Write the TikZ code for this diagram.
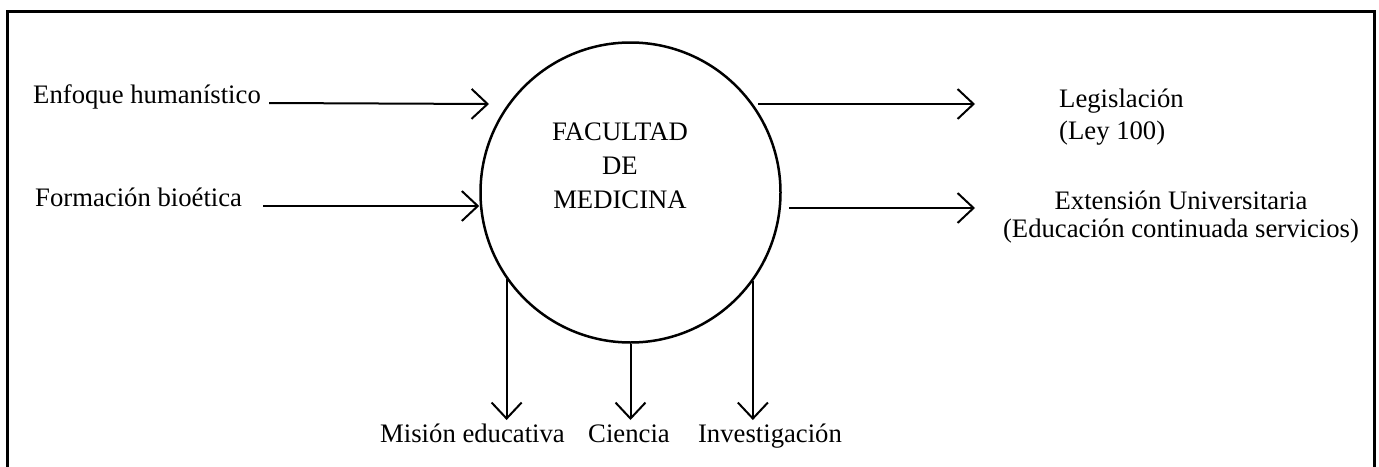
\documentclass[tikz,border=0pt]{standalone}
\usepackage{fontspec}
\setmainfont{Liberation Serif}
\usetikzlibrary{arrows.meta}

\begin{document}
\begin{tikzpicture}[x=1pt,y=-1pt,
  arr/.style={line width=2pt,-{Straight Barb[length=16pt,width=30pt,line width=2pt]}},
  txt/.style={inner sep=0pt,font=\fontsize{26.7}{32}\selectfont}]
\useasboundingbox (0,0) rectangle (1379,466);
% frame, open at the bottom
\draw[line width=3pt] (7,490) -- (7,11) -- (1374,11) -- (1374,490);
% faculty
\node[circle,draw,line width=2.5pt,minimum size=300pt,inner sep=0pt] (fac) at (630.5,192.5) {};
\node[txt,align=center,anchor=base] (factxt) at (620,208) {FACULTAD\\[2pt]DE\\[2pt]MEDICINA};
% inputs
\node[txt,anchor=base west] (enf) at (33,103) {Enfoque humanístico};
\node[txt,anchor=base west] (for) at (35,206) {Formación bioética};
\coordinate (enftip) at (489,104);
\draw[arr] ([xshift=8pt]enf.base east) -- (enftip);
\draw[arr] ([xshift=21pt]for.base east) -- (for.base east -| fac.west);
% outputs
\node[txt,anchor=base west,align=left] (leg) at (1059,139) {Legislación\\(Ley 100)};
\node[txt,anchor=base,align=center] (ext) at (1181,237) {Extensión Universitaria\\[-4pt](Educación continuada servicios)};
\coordinate (legfrom) at (758,104);
\coordinate (legtip) at (975,104);
\coordinate (extfrom) at (789,208);
\coordinate (exttip) at (975,208);
\draw[arr] (legfrom) -- (legtip);
\draw[arr] (extfrom) -- (exttip);
% bottom
\node[txt,anchor=base] (mis) at (472.5,442) {Misión educativa};
\node[txt,anchor=base] (cie) at (629,442) {Ciencia};
\node[txt,anchor=base] (inv) at (770,442) {Investigación};
\coordinate (bot) at (0,420);
\draw[arr] (fac.215.5) -- (fac.215.5 |- bot);
\draw[arr] (fac.south) -- (fac.south |- bot);
\draw[arr] (fac.324) -- (fac.324 |- bot);
\end{tikzpicture}
\end{document}
